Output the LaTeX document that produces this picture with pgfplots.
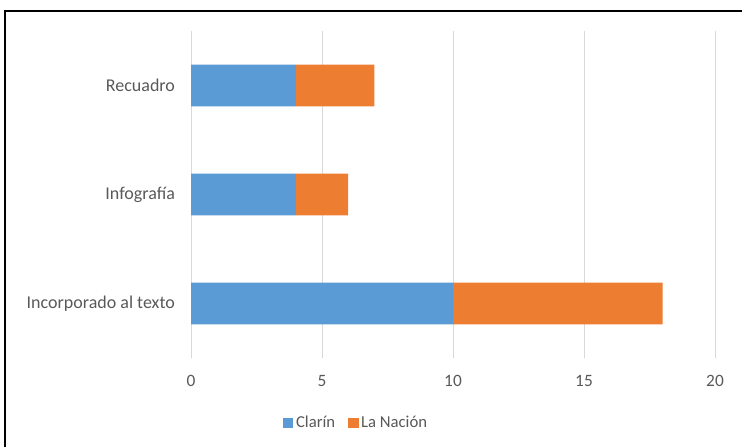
\documentclass[border=0pt]{standalone}
\usepackage{pgfplots}
\pgfplotsset{compat=1.18}
\usepackage{fontspec}
\setmainfont{Carlito}
\definecolor{cblue}{HTML}{5B9BD5}
\definecolor{corange}{HTML}{ED7D31}
\definecolor{ctext}{HTML}{595959}
\definecolor{cgrid}{HTML}{D9D9D9}
\begin{document}
\begin{tikzpicture}
\path[use as bounding box] (0,0) rectangle (556.5pt,334.5pt);
\draw[line width=1.6pt] (3.75pt,-10pt) -- (3.75pt,326.25pt) -- (570pt,326.25pt);
\begin{axis}[
  at={(143.25pt,66pt)}, anchor=south west,
  scale only axis, width=393pt, height=245.25pt,
  xbar stacked, bar width=0.385,
  xmin=0, xmax=20, ymin=-0.5, ymax=2.5,
  xtick={0,5,10,15,20},
  ytick={0,1,2},
  yticklabels={Incorporado al texto, Infografía, Recuadro},
  major tick length=0pt,
  axis line style={draw=none},
  xmajorgrids, grid style={cgrid, line width=0.75pt},
  tick label style={font=\fontsize{13.5}{15}\selectfont, text=ctext},
  xticklabel style={font=\fontsize{13}{15}\selectfont, yshift=-9.5pt},
  /pgf/number format/assume math mode=true,
  yticklabel style={xshift=-8.5pt},
  legend style={at={(0.316,-0.199)}, anchor=center, draw=none, legend columns=2,
    font=\fontsize{12.5}{14}\selectfont, text=ctext,
    /tikz/every even column/.append style={column sep=8pt}},
  legend image code/.code={\fill[#1] (0pt,-3.8pt) rectangle (7.5pt,3.8pt);},
]
\addplot[fill=cblue, draw=none] coordinates {(10,0) (4,1) (4,2)};
\addplot[fill=corange, draw=none] coordinates {(8,0) (2,1) (3,2)};
\legend{Clarín, La Nación}
\end{axis}
\end{tikzpicture}
\end{document}
